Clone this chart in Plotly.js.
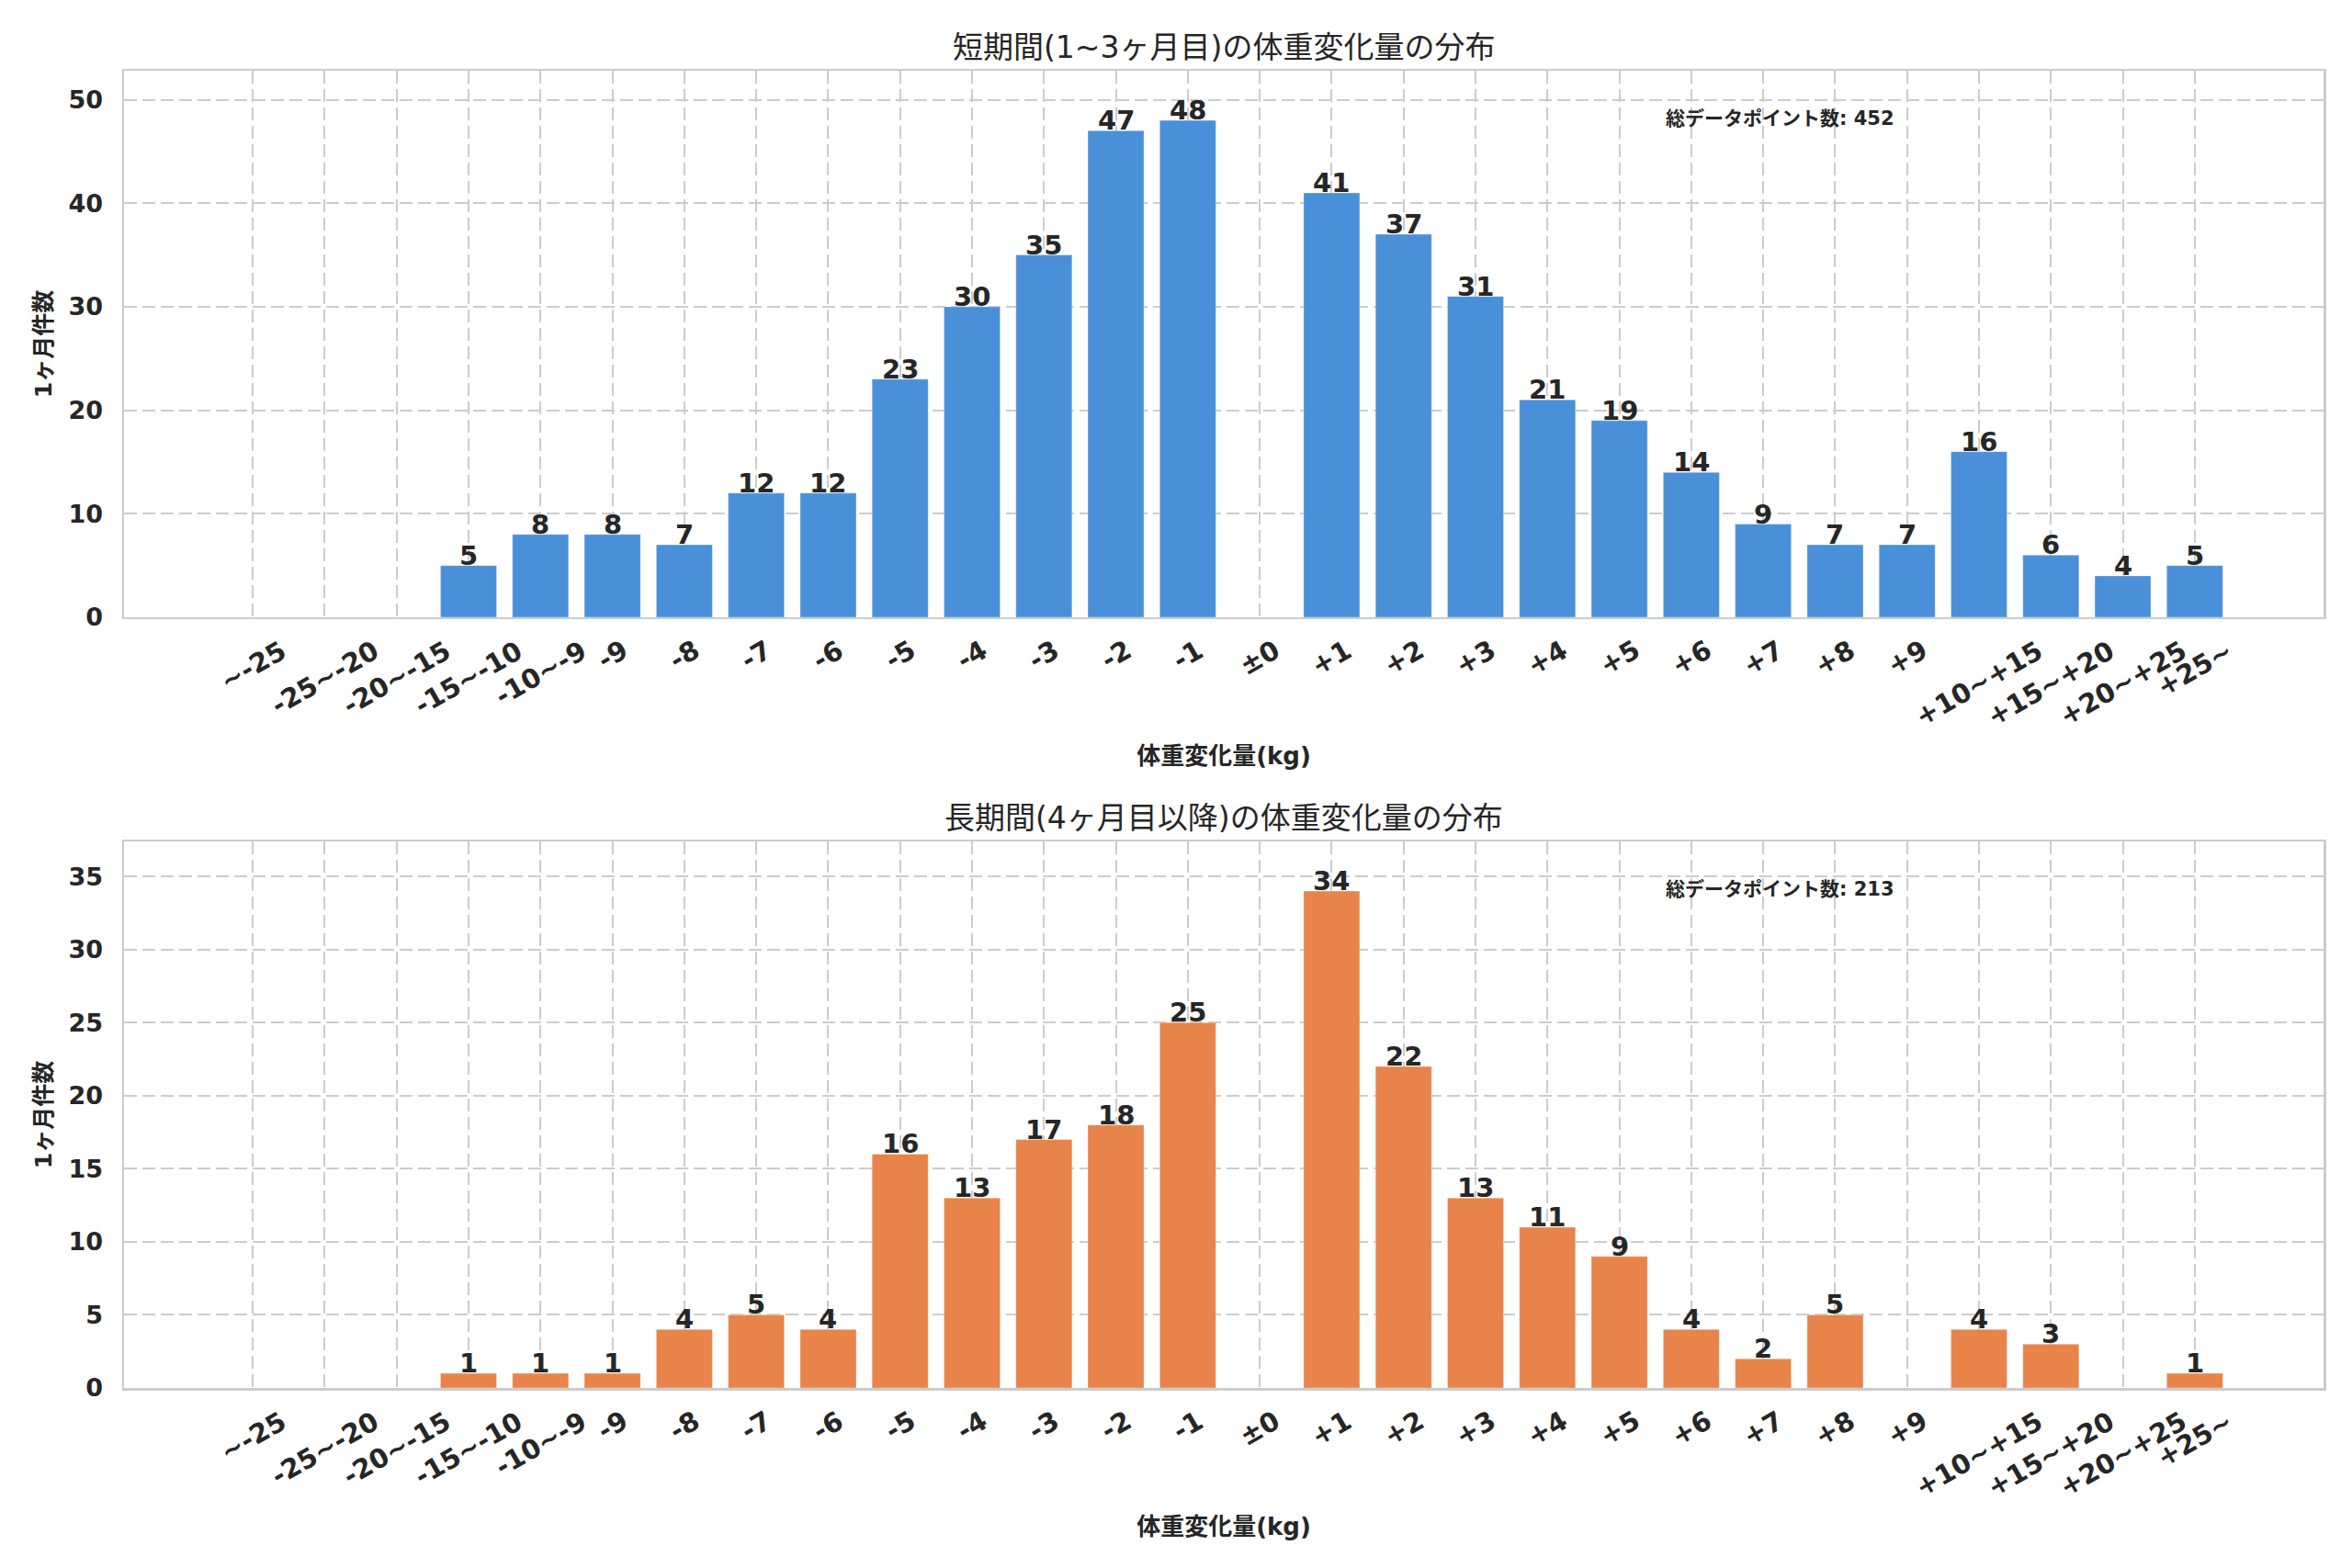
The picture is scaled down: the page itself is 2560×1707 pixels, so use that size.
<!DOCTYPE html>
<html>
<head>
<meta charset="utf-8">
<script src="https://cdn.plot.ly/plotly-3.0.1.min.js"></script>
<style>
  html, body { margin: 0; padding: 0; background: #fff; }
</style>
</head>
<body>
<div id="chart" style="width:2560px;height:1707px;"></div>
<script>
// weight change histogram, short term vs long term

const categories = ['~-25', '-25~-20', '-20~-15', '-15~-10', '-10~-9',
  '-9', '-8', '-7', '-6', '-5', '-4', '-3', '-2', '-1', '±0',
  '+1', '+2', '+3', '+4', '+5', '+6', '+7', '+8', '+9',
  '+10~+15', '+15~+20', '+20~+25', '+25~'];

const shortTermCounts = [0, 0, 0, 5, 8, 8, 7, 12, 12, 23, 30, 35, 47, 48, 0,
  41, 37, 31, 21, 19, 14, 9, 7, 7, 16, 6, 4, 5];
const longTermCounts = [0, 0, 0, 1, 1, 1, 4, 5, 4, 16, 13, 17, 18, 25, 0,
  34, 22, 13, 11, 9, 4, 2, 5, 0, 4, 3, 0, 1];

const titles = ['短期間(1~3ヶ月目)の体重変化量の分布', '長期間(4ヶ月目以降)の体重変化量の分布'];
const xLabel = '体重変化量(kg)';
const yLabel = '1ヶ月件数';
const totalLabel = '総データポイント数';

const FONT = 'DejaVu Sans, "Noto Sans CJK JP", sans-serif';
const TEXT = '#262626';
const GRID = '#cccccc';

const sum = a => a.reduce((s, v) => s + v, 0);

function barTrace(counts, color, xa, ya) {
  return {
    type: 'bar',
    x: categories,
    y: counts,
    width: 0.78,
    marker: { color: color, line: { color: 'rgba(255,255,255,0.35)', width: 1 } },
    hoverinfo: 'skip',
    xaxis: xa,
    yaxis: ya
  };
}

const data = [
  barTrace(shortTermCounts, 'rgb(74,144,217)', 'x', 'y'),
  barTrace(longTermCounts, 'rgb(232,131,74)', 'x2', 'y2')
];

function xAxis(anchor) {
  return {
    type: 'category',
    anchor: anchor,
    range: [-1.79, 28.79],
    showticklabels: false,
    ticks: '',
    showgrid: true,
    gridcolor: GRID,
    gridwidth: 2,
    griddash: '14px,6px',
    showline: true,
    mirror: true,
    linecolor: GRID,
    linewidth: 2.5,
    zeroline: false,
    title: {
      text: xLabel,
      standoff: 141,
      font: { family: FONT, size: 26, color: TEXT, weight: 'bold' }
    }
  };
}

function yAxis(anchor, domain, max, dtick) {
  return {
    anchor: anchor,
    domain: domain,
    range: [0, max * 1.1],
    dtick: dtick,
    ticks: '',
    ticklabelstandoff: 15,
    tickfont: { family: FONT, size: 27, color: TEXT, weight: 'bold' },
    showgrid: true,
    gridcolor: GRID,
    gridwidth: 2,
    griddash: '14px,6px',
    showline: true,
    mirror: true,
    linecolor: GRID,
    linewidth: 2.5,
    zeroline: false,
    title: {
      text: yLabel,
      standoff: 11,
      font: { family: FONT, size: 25, color: TEXT, weight: 'bold' }
    }
  };
}

const annotations = [];
const panels = [
  ['x', 'y', shortTermCounts, titles[0]],
  ['x2', 'y2', longTermCounts, titles[1]]
];

panels.forEach(([xr, yr, counts, t]) => {
  categories.forEach((c, i) => {
    // rotated category label, centred under the bar like the original
    annotations.push({
      xref: xr, yref: yr + ' domain', x: i, y: 0,
      xanchor: 'center', yanchor: 'top',
      yshift: -16,
      textangle: -30,
      showarrow: false,
      text: c,
      font: { family: FONT, size: 29, color: TEXT, weight: 'bold' }
    });
    // value on top of the bar
    if (counts[i] > 0) {
      annotations.push({
        xref: xr, yref: yr, x: i, y: counts[i],
        xanchor: 'center', yanchor: 'bottom',
        yshift: -8,
        showarrow: false,
        text: String(counts[i]),
        font: { family: FONT, size: 29, color: TEXT, weight: 'bold' }
      });
    }
  });
  annotations.push({
    xref: 'paper', yref: yr + ' domain', x: 0.5, y: 1,
    xanchor: 'center', yanchor: 'bottom', yshift: 4,
    showarrow: false, text: t,
    font: { family: FONT, size: 33, color: TEXT }
  });
  annotations.push({
    xref: 'paper', yref: yr + ' domain', x: 0.7, y: 0.913,
    xanchor: 'left', yanchor: 'middle',
    showarrow: false, text: totalLabel + ': ' + sum(counts),
    font: { family: FONT, size: 21, color: TEXT, weight: 'bold' }
  });
});

const layout = {
  width: 2560,
  height: 1707,
  margin: { l: 135, r: 31, t: 77, b: 196 },
  paper_bgcolor: '#ffffff',
  plot_bgcolor: '#ffffff',
  showlegend: false,
  font: { family: FONT, color: TEXT },
  xaxis: xAxis('y'),
  yaxis: yAxis('x', [0.5851, 1], Math.max(...shortTermCounts), 10),
  xaxis2: xAxis('y2'),
  yaxis2: yAxis('x2', [0, 0.4149], Math.max(...longTermCounts), 5),
  annotations: annotations
};

Plotly.newPlot('chart', data, layout, { displayModeBar: false, staticPlot: true });
</script>
</body>
</html>
